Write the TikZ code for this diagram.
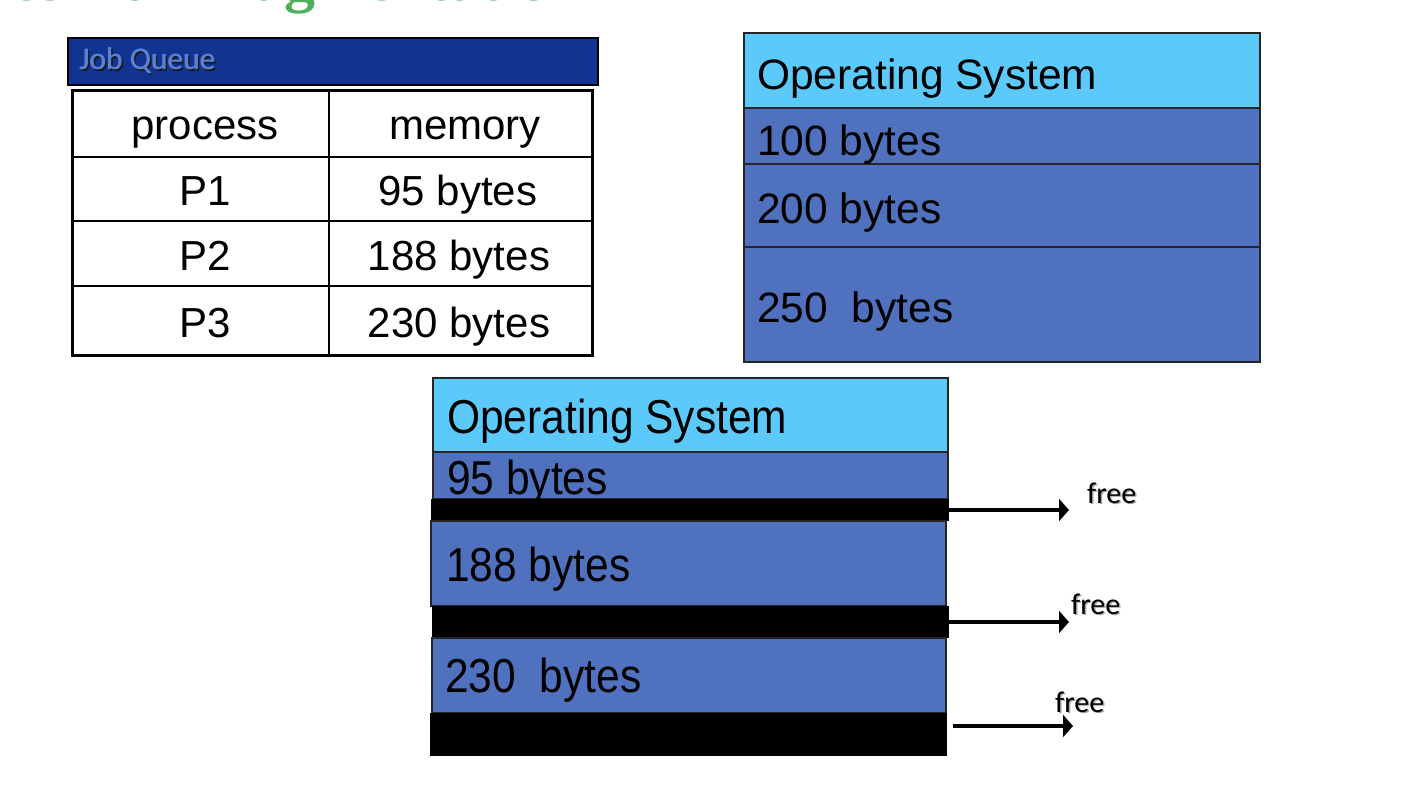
\documentclass[tikz,border=0pt]{standalone}
\usepackage{fontspec}
\setmainfont{Liberation Sans}
\newfontfamily\calibri{Carlito}
\newfontfamily\titlefont{Liberation Serif}
\usetikzlibrary{arrows.meta}
\definecolor{hdrblue}{RGB}{18,51,145}
\definecolor{jqtext}{RGB}{92,128,208}
\definecolor{osblue}{RGB}{91,201,250}
\definecolor{memblue}{RGB}{79,113,190}
\definecolor{titlegreen}{RGB}{80,175,90}
\tikzset{
  osband/.style={fill=osblue, draw=black!85, line width=1.5pt},
  memband/.style={fill=memblue, draw=black!85, line width=1.5pt},
  lbl/.style={anchor=base west, inner sep=0pt, font=\fontsize{42.5}{48}\selectfont},
  lblb/.style={anchor=base west, inner sep=0pt, font=\fontsize{42.5}{48}\selectfont, yscale=1.12},
  cell/.style={anchor=base, inner sep=0pt, font=\fontsize{42}{48}\selectfont},
  freelbl/.style={anchor=base west, inner sep=0pt, font=\calibri\fontsize{30}{34}\selectfont},
  freearrow/.style={line width=3.5pt, -{Triangle[length=10pt,width=22pt]}},
  jqfont/.style={anchor=base west, inner sep=0pt, font=\calibri\fontsize{31.5}{34}\selectfont},
}
\begin{document}
\begin{tikzpicture}[x=1pt,y=-1pt]
\useasboundingbox (0,0) rectangle (1404,794);
\fill[white] (0,0) rectangle (1404,794);
% clipped title
\begin{scope}
\clip (0,0) rectangle (1404,794);
\node[anchor=base east, inner sep=0pt, text=titlegreen, font=\titlefont\bfseries\fontsize{62}{70}\selectfont] (title) at (584,1) {Internal Fragmentation};
\end{scope}
% Job queue header
\node[draw=black, line width=2pt, fill=hdrblue, minimum width=530pt, minimum height=47pt, anchor=north west, inner sep=0pt] (jqhead) at (67,37) {};
\node[jqfont, text=black!90] (jqshadow) at (81,72) {Job Queue};
\node[jqfont, text=jqtext] (jq) at (79,70) {Job Queue};
\node[jqfont, text=jqtext] (jq2) at (79.6,70) {Job Queue};
% table
\node[draw=black, line width=3pt, minimum width=520pt, minimum height=265pt, anchor=north west, inner sep=0pt] (tbl) at (71,89) {};
\draw[line width=1.5pt] (329,89) -- (329,354);
\draw[line width=1.5pt] (71,157) -- (591,157);
\draw[line width=1.5pt] (71,221) -- (591,221);
\draw[line width=1.5pt] (71,286) -- (591,286);
\node[cell] (h1) at (205,140) {process};
\node[cell] (h2) at (465,140) {memory};
\node[cell] (p1) at (205,206) {P1};
\node[cell] (m1) at (458,206) {95 bytes};
\node[cell] (p2) at (205,270) {P2};
\node[cell] (m2) at (459,270) {188 bytes};
\node[cell] (p3) at (205,337) {P3};
\node[cell] (m3) at (459,337) {230 bytes};
% top-right memory
\draw[osband] (744,33) rectangle (1260,108);
\draw[memband] (744,108) rectangle (1260,164);
\draw[memband] (744,164) rectangle (1260,247);
\draw[memband] (744,247) rectangle (1260,362);
\draw[black!85, line width=2pt] (744,33) rectangle (1260,362);
\node[lbl] (os1) at (757,90) {Operating System};
\node[lbl] (b100) at (757,156) {100 bytes};
\node[lbl] (b200) at (757,224) {200 bytes};
\node[lbl] (b250) at (757,322) {250\ \ bytes};
% bottom memory
\draw[osband] (433,378) rectangle (948,452);
\draw[memband] (433,452) rectangle (948,499);
\fill[black] (431,499) rectangle (949,521);
\draw[memband] (431,521) rectangle (946,606);
\fill[black] (432,606) rectangle (949,638);
\draw[memband] (432,638) rectangle (946,713);
\fill[black] (430,713) rectangle (947,756);
\coordinate (g1) at (949,510);
\coordinate (g2) at (949,622);
\coordinate (g3) at (953,726);
\coordinate (e1) at (1069,510);
\coordinate (e2) at (1069,622);
\coordinate (e3) at (1073,726);
\node[lblb] (os2) at (447,433) {Operating System};
\node[lblb] (b95) at (447,494) {95 bytes};
\node[lblb] (b188) at (446,581) {188 bytes};
\node[lblb] (b230) at (445,692) {230\ \ bytes};
\draw[freearrow] (g1) -- (e1);
\draw[freearrow] (g2) -- (e2);
\draw[freearrow] (g3) -- (e3);
\node[freelbl, text=black!35] at (1088.5,504.5) {free};
\node[freelbl] (f1) at (1087,503) {free};
\node[freelbl, text=black!35] at (1072.5,615.5) {free};
\node[freelbl] (f2) at (1071,614) {free};
\node[freelbl, text=black!35] at (1056.5,713.5) {free};
\node[freelbl] (f3) at (1055,712) {free};
\end{tikzpicture}
\end{document}
